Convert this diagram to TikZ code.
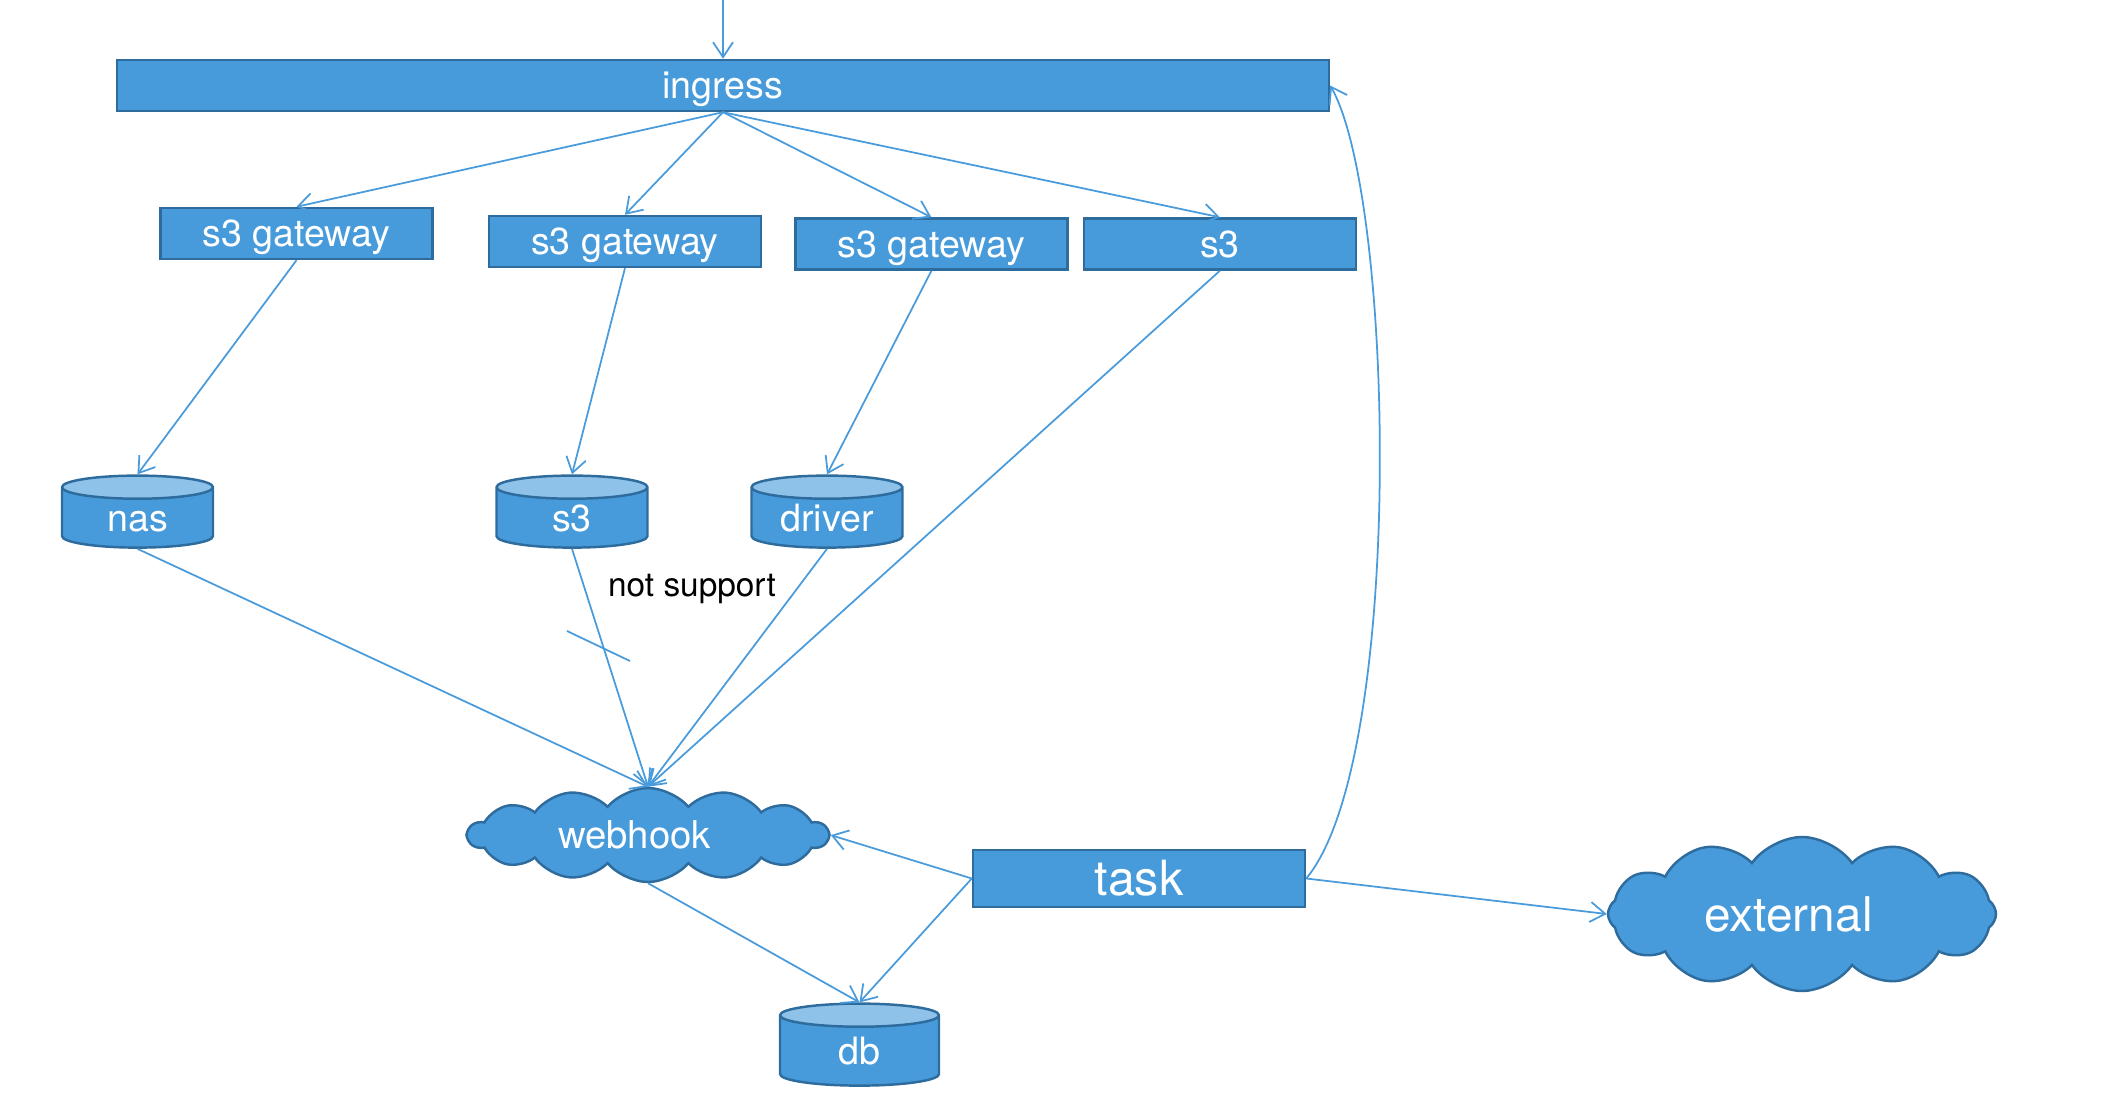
\documentclass[tikz,border=0pt]{standalone}
\usepackage{fontspec}
\setmainfont{TeX Gyre Heros}
\usetikzlibrary{shapes.geometric,shapes.symbols,arrows.meta,positioning}
\definecolor{boxblue}{RGB}{71,155,219}
\definecolor{boxedge}{RGB}{46,108,158}
\definecolor{boxtop}{RGB}{143,194,233}
\definecolor{linkblue}{RGB}{74,155,219}
\begin{document}
\begin{tikzpicture}
    % Define Styles
        \tikzstyle{block} = [rectangle, draw=boxedge, fill=boxblue, text=white, text centered, minimum height=0.51cm, minimum width=2.72cm, line width=0.07em, inner sep=0pt, text height=8pt, text depth=0.5pt, font=\fontsize{10.7}{12}\selectfont]
        \tikzstyle{store} = [cylinder, shape border rotate=90, aspect=0.21, draw=boxedge, line width=0.07em, cylinder uses custom fill, cylinder body fill=boxblue, cylinder end fill=boxtop, text=white, minimum width=1.51cm, minimum height=0.72cm, inner sep=0pt, text width=1.1cm, align=center, text height=9pt, text depth=1.2pt, font=\fontsize{10.7}{12}\selectfont]
        \tikzstyle{puff} = [cloud, cloud puffs=14, cloud puff arc=100, cloud ignores aspect, draw=boxedge, fill=boxblue, text=white, line width=0.07em, inner sep=0pt]
        \tikzstyle{line} = [draw=linkblue, -{Straight Barb[length=1.5mm,width=2mm]}, line width=0.05em]
    \useasboundingbox (0,0) rectangle (21.28,-11.12);
    % Place nodes
        \node [block, minimum width=12.12cm] (ingress) at (7.23,-0.855) {ingress};
        \node [block] (gwnas) at (2.965,-2.335) {s3 gateway};
        \node [block, right = 0.54cm of gwnas, yshift=-0.08cm] (gwsthree) {s3 gateway};
        \node [block, right = 0.32cm of gwsthree, yshift=-0.025cm] (gwdriver) {s3 gateway};
        \node [block, right = 0.14cm of gwdriver] (sthree) {s3};
        \node [store] (nas) at (1.375,-5.18) {nas};
        \node [store] (sthreedb) at (5.72,-5.18) {s3};
        \node [store] (driver) at (8.27,-5.18) {driver};
        \node [puff, minimum width=3.6cm, minimum height=0.94cm, font=\fontsize{10.9}{12}\selectfont] (webhook) at (6.48,-8.35) {\hspace*{-0.27cm}webhook};
        \node [store, minimum width=1.59cm, minimum height=0.82cm] (db) at (8.595,-10.51) {db};
        \node [block, minimum width=3.32cm, minimum height=0.57cm, text height=10.3pt, text depth=0.7pt, font=\fontsize{13.8}{15}\selectfont] (task) at (11.39,-8.785) {task};
        \node [puff, cloud puffs=12, cloud puff arc=110, minimum width=3.88cm, minimum height=1.54cm, font=\fontsize{13.6}{15}\selectfont] (external) at (18.02,-9.14) {\hspace*{-0.27cm}external};
        \node [font=\fontsize{9.5}{11}\selectfont] (nosupport) at (6.92,-5.89) {not support};
        \coordinate (entry) at (7.23,0);
    % Edges
        \draw[line] (entry) -- (ingress.north);
        \draw[line] (ingress.south) -- (gwnas.north);
        \draw[line] (ingress.south) -- (gwsthree.north);
        \draw[line] (ingress.south) -- (gwdriver.north);
        \draw[line] (ingress.south) -- (sthree.north);
        \draw[line] (gwnas.south) -- (nas.north);
        \draw[line] (gwsthree.south) -- (sthreedb.north);
        \draw[line] (gwdriver.south) -- (driver.north);
        \draw[line] (sthree.south) -- (webhook.north);
        \draw[line] (nas.south) -- (webhook.north);
        \draw[line] (sthreedb.south) -- (webhook.north);
        \draw[line] (driver.south) -- (webhook.north);
        \draw[line] (webhook.south) -- (db.north);
        \draw[line] (task.west) -- (webhook.east);
        \draw[line] (task.west) -- (db.north);
        \draw[line] (task.east) -- (external.west);
        \draw[line] (task.east) .. controls (14.05,-7.6) and (13.95,-2.0) .. (ingress.east);
        \draw[draw=linkblue, line width=0.05em] (5.67,-6.31) -- (6.30,-6.61);
\end{tikzpicture}
\end{document}
